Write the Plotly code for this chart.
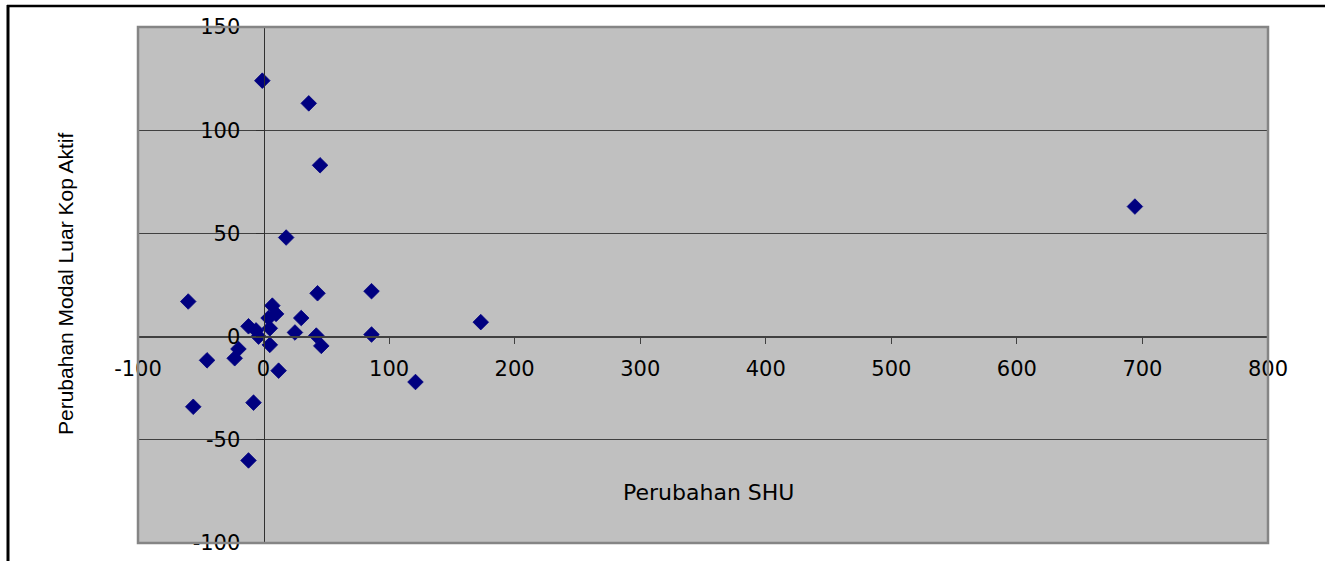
import plotly.graph_objects as go

# Change in SHU (x) vs change in external capital of active cooperatives (y)
shu_change = [-1, 36, 45, 694, 18, 86, 43, -60, 7, 10, 4, 30, -12, -6, -4, 5,
              25, 42, 86, 173, 46, 5, -20, -23, -45, 12, 121, -56, -8, -12]
modal_change = [124, 113, 83, 63, 48, 22, 21, 17, 15, 11, 9, 9, 5, 3, 0, 4,
                2, 0.5, 1, 7, -4.5, -4, -6, -10.5, -11.5, -16.5, -22, -34, -32, -60]

x_ticks = [-100, 0, 100, 200, 300, 400, 500, 600, 700, 800]
y_ticks = [-100, -50, 0, 50, 100, 150]

x_range = [-100, 800]
y_range = [-100, 150]

fig = go.Figure()
fig.add_trace(go.Scatter(
    x=shu_change, y=modal_change, mode="markers",
    marker=dict(symbol="diamond", size=12, color="#000080",
                line=dict(color="#000080", width=0.8)),
    showlegend=False, hoverinfo="x+y",
))

tick_font = dict(family="DejaVu Sans", size=21, color="#000000")

# Axes cross at the origin: place each axis line at the paper position of zero
x_cross = (0 - y_range[0]) / (y_range[1] - y_range[0])
y_cross = (0 - x_range[0]) / (x_range[1] - x_range[0])

fig.update_xaxes(
    range=x_range, tickvals=x_ticks, ticktext=[str(v) for v in x_ticks],
    anchor="free", position=x_cross, automargin=False,
    showline=True, linecolor="#404040", linewidth=2,
    ticks="outside", ticklen=6, tickcolor="#404040", tickwidth=1,
    showgrid=False, zeroline=False, tickfont=tick_font,
    ticklabelstandoff=7,
)
fig.update_yaxes(
    range=y_range, tickvals=y_ticks, ticktext=[str(v) for v in y_ticks],
    anchor="free", position=y_cross, automargin=False,
    showline=True, linecolor="#303030", linewidth=1,
    ticks="outside", ticklen=8, tickcolor="#303030", tickwidth=1,
    showgrid=True, gridcolor="#404040", gridwidth=1,
    zeroline=False, tickfont=tick_font,
    ticklabelstandoff=11,
)

W, H = 1325, 561
ml, mr, mt, mb = 138, 57, 27, 18
pw, ph = W - ml - mr, H - mt - mb

def px_x(p):
    return (p - ml) / pw

def px_y(p):
    return (H - mb - p) / ph

shapes = [
    # plot area frame
    dict(type="rect", xref="paper", yref="paper", x0=0, y0=0, x1=1, y1=1,
         line=dict(color="#858585", width=2.5), layer="above"),
    # chart frame (top and left edges)
    dict(type="line", xref="paper", yref="paper",
         x0=px_x(7), x1=px_x(W + 5), y0=px_y(6), y1=px_y(6),
         line=dict(color="#000000", width=2.5)),
    dict(type="line", xref="paper", yref="paper",
         x0=px_x(8), x1=px_x(8), y0=px_y(5), y1=px_y(H + 5),
         line=dict(color="#000000", width=3)),
]

annotations = [
    dict(text="Perubahan SHU", xref="paper", yref="paper",
         x=px_x(708), y=px_y(492), showarrow=False,
         font=dict(family="DejaVu Sans", size=22, color="#000000"),
         xanchor="center", yanchor="middle"),
    dict(text="Perubahan Modal Luar Kop Aktif", xref="paper", yref="paper",
         x=px_x(65), y=px_y(284), showarrow=False, textangle=-90,
         font=dict(family="Liberation Sans", size=21, color="#000000"),
         xanchor="center", yanchor="middle"),
]

fig.update_layout(
    width=W, height=H, autosize=False,
    margin=dict(l=ml, r=mr, t=mt, b=mb, pad=0, autoexpand=False),
    paper_bgcolor="#FFFFFF", plot_bgcolor="#C0C0C0",
    shapes=shapes, annotations=annotations,
)

fig.write_html("out.html", config={"displayModeBar": False})
